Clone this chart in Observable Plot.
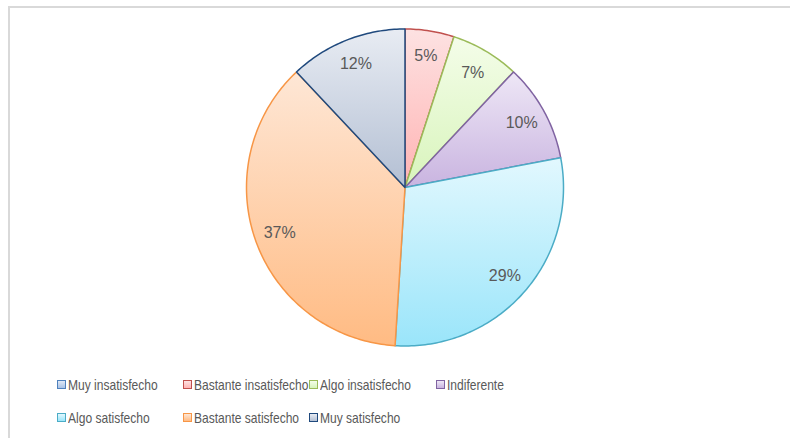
<!DOCTYPE html>
<html><head><meta charset="utf-8">
<script src="https://cdn.jsdelivr.net/npm/d3@7"></script>
<script src="https://cdn.jsdelivr.net/npm/@observablehq/plot@0.6"></script>
<style>
body{margin:0;background:#fff;}
#wrap{position:relative;width:790px;height:438px;overflow:hidden;font-family:"Liberation Sans",Arial,sans-serif;}
#frame{position:absolute;left:8px;top:6px;width:820px;height:520px;border-top:2px solid #d9d9d9;border-left:2px solid #d9d9d9;box-sizing:border-box;}
#chart{position:absolute;left:0;top:0;}
#chart svg g[aria-label="shadow"]{filter:blur(2.5px);transform:translate(1px,3px);}
#legend{position:absolute;left:57px;top:368px;display:grid;grid-template-columns:126px 126px 127px 126px;grid-auto-rows:33px;}
.item{display:flex;align-items:center;white-space:nowrap;color:#595959;font-size:14.5px;}
.sw{width:7px;height:7px;border:1px solid;margin-right:2px;flex:none;}
.lbl{display:inline-block;transform:scaleX(0.83);transform-origin:left center;}
</style></head>
<body><div id="wrap"><div id="frame"></div><div id="chart"></div><div id="legend"></div></div>
<script>
const categories = ["Muy insatisfecho","Bastante insatisfecho","Algo insatisfecho","Indiferente","Algo satisfecho","Bastante satisfecho","Muy satisfecho"];
const values = [0, 5, 7, 10, 29, 37, 12];
const edgeColors = ["#4f81bd","#c0504d","#9bbb59","#8064a2","#4bacc6","#f79646","#1f497d"];
const topColors = ["#dfe8f5","#fde2e2","#f4fde9","#eee7f6","#e2f8fe","#fee7d6","#e8ecf3"];
const bottomColors = ["#a9c2e6","#ffb3b3","#d8f4bb","#c9b4e0","#9ae5fa","#ffbb83","#b3bfd3"];

const pie = d3.pie().sort(null).value(d => d.value);
const data = categories.map((c, i) => ({name: c, value: values[i], i}));
const slices = pie(data);

function slicePoints(s) {
  const pts = [{x: 0, y: 0}];
  const n = Math.max(2, Math.ceil((s.endAngle - s.startAngle) * 180 / Math.PI));
  for (let k = 0; k <= n; k++) {
    const a = s.startAngle + (s.endAngle - s.startAngle) * k / n;
    pts.push({x: Math.sin(a), y: Math.cos(a)});
  }
  pts.push({x: 0, y: 0});
  return pts;
}
const circlePts = d3.range(0, 361).map(k => ({x: Math.sin(k * Math.PI / 180), y: Math.cos(k * Math.PI / 180)}));

const defsMark = () => {
  const defs = d3.create("svg:defs");
  data.forEach((d, i) => {
    const g = defs.append("linearGradient").attr("id", "grad" + i)
      .attr("x1", 0).attr("y1", 0).attr("x2", 0).attr("y2", 1);
    g.append("stop").attr("offset", "0%").attr("stop-color", topColors[i]);
    g.append("stop").attr("offset", "100%").attr("stop-color", bottomColors[i]);
  });
  return defs.node();
};

const marks = [
  defsMark,
  Plot.line(circlePts, {x: "x", y: "y", fill: "rgba(0,0,0,0.35)", stroke: "none", ariaLabel: "shadow"}),
  ...slices.filter(s => s.data.value > 0).map(s => Plot.line(slicePoints(s), {
    x: "x", y: "y",
    fill: `url(#grad${s.data.i})`,
    stroke: edgeColors[s.data.i],
    strokeWidth: 1.5,
    strokeLinejoin: "round"
  })),
  Plot.text(slices.filter(s => s.data.value > 0), {
    x: s => 0.84 * Math.sin((s.startAngle + s.endAngle) / 2),
    y: s => 0.84 * Math.cos((s.startAngle + s.endAngle) / 2),
    text: s => s.data.value + "%",
    fill: "#595959",
    fontSize: 16
  })
];

const chart = Plot.plot({
  width: 790, height: 360,
  marginLeft: 246, marginRight: 227, marginTop: 28.5, marginBottom: 14.5,
  x: {domain: [-1, 1], axis: null},
  y: {domain: [-1, 1], axis: null},
  style: {background: "transparent", fontFamily: '"Liberation Sans",Arial,sans-serif', overflow: "visible"},
  marks
});
document.getElementById("chart").appendChild(chart);

const legend = document.getElementById("legend");
data.forEach((d, i) => {
  const item = document.createElement("div");
  item.className = "item";
  const sw = document.createElement("span");
  sw.className = "sw";
  sw.style.borderColor = edgeColors[i];
  sw.style.background = `linear-gradient(${topColors[i]}, ${bottomColors[i]})`;
  item.appendChild(sw);
  const t = document.createElement("span");
  t.className = "lbl";
  t.textContent = d.name;
  item.appendChild(t);
  legend.appendChild(item);
});
</script>
</body></html>
